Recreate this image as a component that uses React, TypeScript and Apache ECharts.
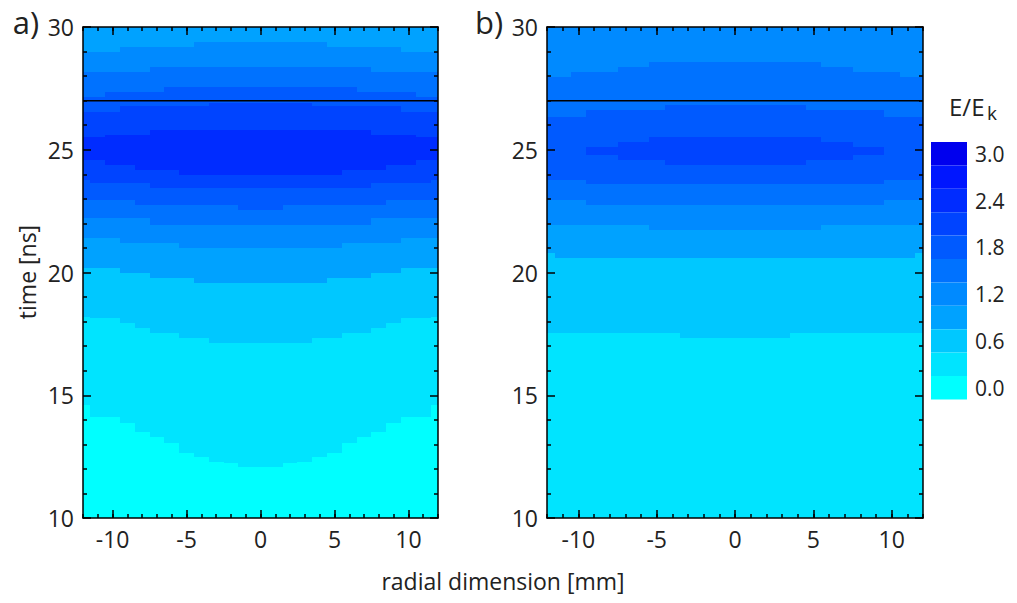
import React, { useEffect, useRef } from 'react';
import * as echarts from 'echarts';

const FONT = '"Open Sans", "Noto Sans", sans-serif';
const TEXT_COLOR = '#222';
const LABEL_SIZE = 23;

// axes
const X_MIN = -12;
const X_MAX = 12;
const T_MIN = 10;
const T_MAX = 30;
const xCols = [-12, -11, -10, -9, -8, -7, -6, -5, -4, -3, -2, -1, 0, 1, 2, 3, 4, 5, 6, 7, 8, 9, 10, 11, 12];
const xMajorTicks = [-10, -5, 0, 5, 10];
const xMinorTicks = [-12, -11, -10, -9, -8, -7, -6, -5, -4, -3, -2, -1, 0, 1, 2, 3, 4, 5, 6, 7, 8, 9, 10, 11, 12];
const markTime = 27;

// colour scale E/Ek
const levelValues = [0.0, 0.3, 0.6, 0.9, 1.2, 1.5, 1.8, 2.1, 2.4, 2.7, 3.0];
const levelColors = ['#00FFFF', '#00E4FF', '#00C8FF', '#00A2FF', '#008AFF', '#0072FF', '#005AFF', '#0044FF', '#002CFF', '#0016FF', '#0000EE'];

// panel a) : base level 0, times (ns) where each level k is entered (rise) and left (fall), per column x
const aBaseLevel = 0;
const aRise1 = [14.6, 14.13, 14.13, 13.86, 13.52, 13.31, 13.04, 12.63, 12.5, 12.29, 12.23, 12.09, 12.09, 12.09, 12.23, 12.29, 12.5, 12.63, 13.04, 13.31, 13.52, 13.86, 14.13, 14.13, 14.6];
const aRise2 = [18.2, 18.13, 18.13, 17.93, 17.73, 17.52, 17.52, 17.32, 17.32, 17.12, 17.12, 17.12, 17.12, 17.12, 17.12, 17.12, 17.32, 17.32, 17.52, 17.52, 17.73, 17.93, 18.13, 18.13, 18.2];
const aRise3 = [20.17, 20.17, 20.17, 19.97, 19.97, 19.76, 19.76, 19.76, 19.56, 19.56, 19.56, 19.56, 19.56, 19.56, 19.56, 19.56, 19.56, 19.76, 19.76, 19.76, 19.97, 19.97, 20.17, 20.17, 20.17];
const aRise4 = [21.39, 21.39, 21.39, 21.19, 21.19, 21.19, 21.19, 20.99, 20.99, 20.99, 20.99, 20.99, 20.99, 20.99, 20.99, 20.99, 20.99, 20.99, 21.19, 21.19, 21.19, 21.19, 21.39, 21.39, 21.39];
const aRise5 = [22.21, 22.21, 22.21, 22.21, 22.21, 21.93, 21.93, 21.93, 21.93, 21.93, 21.93, 21.93, 21.93, 21.93, 21.93, 21.93, 21.93, 21.93, 21.93, 21.93, 22.21, 22.21, 22.21, 22.21, 22.21];
const aRise6 = [22.95, 22.95, 22.95, 22.95, 22.75, 22.75, 22.75, 22.75, 22.75, 22.75, 22.75, 22.55, 22.55, 22.55, 22.75, 22.75, 22.75, 22.75, 22.75, 22.75, 22.75, 22.95, 22.95, 22.95, 22.95];
const aRise7 = [23.77, 23.63, 23.63, 23.63, 23.63, 23.43, 23.43, 23.43, 23.43, 23.43, 23.43, 23.43, 23.43, 23.43, 23.43, 23.43, 23.43, 23.43, 23.43, 23.43, 23.63, 23.63, 23.63, 23.63, 23.77];
const aRise8 = [24.58, 24.58, 24.38, 24.38, 24.18, 24.18, 24.18, 23.97, 23.97, 23.97, 23.97, 23.97, 23.97, 23.97, 23.97, 23.97, 23.97, 23.97, 24.18, 24.18, 24.18, 24.38, 24.38, 24.58, 24.58];
const aFall4 = [28.99, 28.99, 28.99, 29.2, 29.2, 29.2, 29.2, 29.2, 29.4, 29.4, 29.4, 29.4, 29.4, 29.4, 29.4, 29.4, 29.4, 29.2, 29.2, 29.2, 29.2, 29.2, 28.99, 28.99, 28.99];
const aFall5 = [28.18, 28.18, 28.18, 28.18, 28.18, 28.38, 28.38, 28.38, 28.38, 28.38, 28.38, 28.38, 28.38, 28.38, 28.38, 28.38, 28.38, 28.38, 28.38, 28.38, 28.18, 28.18, 28.18, 28.18, 28.18];
const aFall6 = [27.16, 27.16, 27.37, 27.37, 27.37, 27.37, 27.57, 27.57, 27.57, 27.57, 27.57, 27.57, 27.57, 27.57, 27.57, 27.57, 27.57, 27.57, 27.57, 27.37, 27.37, 27.37, 27.37, 27.16, 27.16];
const aFall7 = [26.55, 26.55, 26.55, 26.78, 26.78, 26.78, 26.78, 26.78, 26.78, 26.9, 26.9, 26.9, 26.9, 26.9, 26.9, 26.9, 26.78, 26.78, 26.78, 26.78, 26.78, 26.78, 26.55, 26.55, 26.55];
const aFall8 = [25.53, 25.53, 25.6, 25.6, 25.6, 25.8, 25.8, 25.8, 25.8, 25.8, 25.8, 25.8, 25.8, 25.8, 25.8, 25.8, 25.8, 25.8, 25.8, 25.8, 25.6, 25.6, 25.6, 25.53, 25.53];

// panel b) : base level 1
const bBaseLevel = 1;
const bRise2 = [17.55, 17.55, 17.55, 17.55, 17.55, 17.55, 17.55, 17.55, 17.55, 17.32, 17.32, 17.32, 17.32, 17.32, 17.32, 17.32, 17.55, 17.55, 17.55, 17.55, 17.55, 17.55, 17.55, 17.55, 17.55];
const bRise3 = [20.78, 20.58, 20.58, 20.58, 20.58, 20.58, 20.58, 20.58, 20.58, 20.58, 20.58, 20.58, 20.58, 20.58, 20.58, 20.58, 20.58, 20.58, 20.58, 20.58, 20.58, 20.58, 20.58, 20.58, 20.78];
const bRise4 = [21.93, 21.93, 21.93, 21.93, 21.93, 21.93, 21.93, 21.73, 21.73, 21.73, 21.73, 21.73, 21.73, 21.73, 21.73, 21.73, 21.73, 21.73, 21.93, 21.93, 21.93, 21.93, 21.93, 21.93, 21.93];
const bRise5 = [22.95, 22.95, 22.95, 22.75, 22.75, 22.75, 22.75, 22.75, 22.75, 22.75, 22.75, 22.75, 22.75, 22.75, 22.75, 22.75, 22.75, 22.75, 22.75, 22.75, 22.75, 22.75, 22.95, 22.95, 22.95];
const bRise6 = [23.77, 23.77, 23.77, 23.6, 23.6, 23.6, 23.6, 23.6, 23.6, 23.6, 23.6, 23.6, 23.6, 23.6, 23.6, 23.6, 23.6, 23.6, 23.6, 23.6, 23.6, 23.6, 23.77, 23.77, 23.77];
const bRise7 = [null, null, null, 24.79, 24.79, 24.58, 24.58, 24.58, 24.38, 24.38, 24.38, 24.38, 24.38, 24.38, 24.38, 24.38, 24.38, 24.58, 24.58, 24.58, 24.79, 24.79, null, null, null];
const bFall5 = [27.98, 27.98, 28.18, 28.18, 28.18, 28.38, 28.38, 28.59, 28.59, 28.59, 28.59, 28.59, 28.59, 28.59, 28.59, 28.59, 28.59, 28.59, 28.38, 28.38, 28.18, 28.18, 28.18, 27.98, 27.98];
const bFall6 = [26.35, 26.35, 26.35, 26.62, 26.62, 26.62, 26.62, 26.62, 26.82, 26.82, 26.82, 26.82, 26.82, 26.82, 26.82, 26.82, 26.82, 26.62, 26.62, 26.62, 26.62, 26.62, 26.35, 26.35, 26.35];
const bFall7 = [null, null, null, 25.12, 25.12, 25.33, 25.33, 25.53, 25.53, 25.53, 25.53, 25.53, 25.53, 25.53, 25.53, 25.53, 25.53, 25.53, 25.33, 25.33, 25.12, 25.12, null, null, null];

type Arr = (number | null)[];

function buildCells(base: number, rises: Arr[], falls: (Arr | null)[]) {
  const cells: number[][] = [];
  xCols.forEach((x, j) => {
    cells.push([x, base, T_MIN, T_MAX]);
    rises.forEach((r, i) => {
      const t0 = r[j];
      if (t0 == null) return;
      const f = falls[i];
      const t1 = f && f[j] != null ? (f[j] as number) : T_MAX;
      cells.push([x, base + 1 + i, t0, t1]);
    });
  });
  return cells;
}

const cellsA = buildCells(
  aBaseLevel,
  [aRise1, aRise2, aRise3, aRise4, aRise5, aRise6, aRise7, aRise8],
  [null, null, null, aFall4, aFall5, aFall6, aFall7, aFall8]
);
const cellsB = buildCells(
  bBaseLevel,
  [bRise2, bRise3, bRise4, bRise5, bRise6, bRise7],
  [null, null, null, bFall5, bFall6, bFall7]
);

const renderCell = (params: any, api: any) => {
  const x = api.value(0) as number;
  const t0 = api.value(2) as number;
  const t1 = api.value(3) as number;
  const xl = Math.max(x - 0.5, X_MIN);
  const xr = Math.min(x + 0.5, X_MAX);
  const p0 = api.coord([xl, t1]);
  const p1 = api.coord([xr, t0]);
  const x0 = Math.round(p0[0]);
  const y0 = Math.round(p0[1]);
  const x1 = Math.round(p1[0]);
  const y1 = Math.round(p1[1]);
  return {
    type: 'rect',
    shape: { x: x0, y: y0, width: x1 - x0, height: y1 - y0 },
    style: { fill: api.visual('color') },
  };
};

const AXIS_LINE = { show: true, onZero: false, lineStyle: { color: '#000', width: 1.5 } };
const TICK_STYLE = { color: '#000', width: 1.5 };

function xAxesFor(g: number) {
  const common = { gridIndex: g, type: 'value', min: X_MIN, max: X_MAX, splitLine: { show: false }, z: 10 };
  return [
    {
      ...common, position: 'bottom', axisLine: AXIS_LINE,
      axisTick: { show: true, inside: true, length: 8, customValues: xMajorTicks, lineStyle: TICK_STYLE },
      axisLabel: { show: true, customValues: xMajorTicks, fontSize: LABEL_SIZE, color: TEXT_COLOR, fontFamily: FONT, margin: 9 },
    },
    {
      ...common, position: 'bottom', axisLine: { show: false },
      axisTick: { show: true, inside: true, length: 4, customValues: xMinorTicks, lineStyle: TICK_STYLE },
      axisLabel: { show: false },
    },
    {
      ...common, position: 'top', axisLine: AXIS_LINE,
      axisTick: { show: true, inside: true, length: 8, customValues: xMajorTicks, lineStyle: TICK_STYLE },
      axisLabel: { show: false },
    },
    {
      ...common, position: 'top', axisLine: { show: false },
      axisTick: { show: true, inside: true, length: 4, customValues: xMinorTicks, lineStyle: TICK_STYLE },
      axisLabel: { show: false },
    },
  ];
}

function yAxesFor(g: number) {
  const common = {
    gridIndex: g, type: 'value', min: T_MIN, max: T_MAX, interval: 5, splitLine: { show: false }, z: 10,
    axisLine: AXIS_LINE,
    axisTick: { show: true, inside: true, length: 8, lineStyle: TICK_STYLE },
    minorTick: { show: true, splitNumber: 5, length: 4, lineStyle: TICK_STYLE },
    minorSplitLine: { show: false },
  };
  return [
    { ...common, position: 'left', axisLabel: { show: true, fontSize: LABEL_SIZE, color: TEXT_COLOR, fontFamily: FONT, margin: 9 } },
    { ...common, position: 'right', axisLabel: { show: false } },
  ];
}

export default function App() {
  const ref = useRef<HTMLDivElement>(null);
  useEffect(() => {
    document.body.style.margin = '0';
    if (!ref.current) return;
    const chart = echarts.init(ref.current, null, { renderer: 'svg' });
    const option: any = {
      animation: false,
      backgroundColor: '#fff',
      grid: [
        { left: 83, top: 27, width: 355, height: 491 },
        { left: 547, top: 27, width: 376, height: 491 },
      ],
      xAxis: [...xAxesFor(0), ...xAxesFor(1)],
      yAxis: [...yAxesFor(0), ...yAxesFor(1)],
      visualMap: {
        type: 'piecewise',
        seriesIndex: [0, 1],
        dimension: 1,
        orient: 'vertical',
        align: 'left',
        left: 916,
        top: 127,
        itemWidth: 36,
        itemHeight: 23.4,
        itemGap: 0,
        itemSymbol: 'rect',
        textGap: 8,
        hoverLink: false,
        selectedMode: false,
        textStyle: { fontSize: 21, color: TEXT_COLOR, fontFamily: FONT },
        pieces: levelValues.map((v, i) => ({
          value: i,
          color: levelColors[i],
          label: i % 2 === 0 ? v.toFixed(1) : ' ',
        })),
      },
      series: [
        {
          type: 'custom', xAxisIndex: 0, yAxisIndex: 0, clip: true,
          dimensions: ['x', 'level', 't0', 't1'], encode: { x: 0, y: [2, 3] },
          renderItem: renderCell, data: cellsA, silent: true,
        },
        {
          type: 'custom', xAxisIndex: 4, yAxisIndex: 2, clip: true,
          dimensions: ['x', 'level', 't0', 't1'], encode: { x: 0, y: [2, 3] },
          renderItem: renderCell, data: cellsB, silent: true,
        },
        {
          type: 'line', xAxisIndex: 0, yAxisIndex: 0, symbol: 'none', silent: true, z: 5,
          lineStyle: { color: '#000', width: 1.5 },
          data: [[X_MIN, markTime], [X_MAX, markTime]],
        },
        {
          type: 'line', xAxisIndex: 4, yAxisIndex: 2, symbol: 'none', silent: true, z: 5,
          lineStyle: { color: '#000', width: 1.5 },
          data: [[X_MIN, markTime], [X_MAX, markTime]],
        },
      ],
      graphic: [
        {
          type: 'text', x: 26, y: 22,
          style: { text: 'a)', fontSize: 31, fill: TEXT_COLOR, fontFamily: FONT, align: 'center', verticalAlign: 'middle' },
        },
        {
          type: 'text', x: 489, y: 22,
          style: { text: 'b)', fontSize: 31, fill: TEXT_COLOR, fontFamily: FONT, align: 'center', verticalAlign: 'middle' },
        },
        {
          type: 'text', x: 27, y: 272, rotation: Math.PI / 2,
          style: { text: 'time [ns]', fontSize: LABEL_SIZE, fill: TEXT_COLOR, fontFamily: FONT, align: 'center', verticalAlign: 'middle' },
        },
        {
          type: 'text', x: 503, y: 581,
          style: { text: 'radial dimension [mm]', fontSize: LABEL_SIZE, fill: TEXT_COLOR, fontFamily: FONT, align: 'center', verticalAlign: 'middle' },
        },
        {
          type: 'text', x: 949, y: 106,
          style: { text: 'E/E', fontSize: 24, fill: TEXT_COLOR, fontFamily: FONT, align: 'left', verticalAlign: 'middle' },
        },
        {
          type: 'text', x: 987, y: 113,
          style: { text: 'k', fontSize: 19, fill: TEXT_COLOR, fontFamily: FONT, align: 'left', verticalAlign: 'middle' },
        },
      ],
    };
    chart.setOption(option);
    return () => chart.dispose();
  }, []);
  return <div ref={ref} style={{ width: 1017, height: 603 }} />;
}
